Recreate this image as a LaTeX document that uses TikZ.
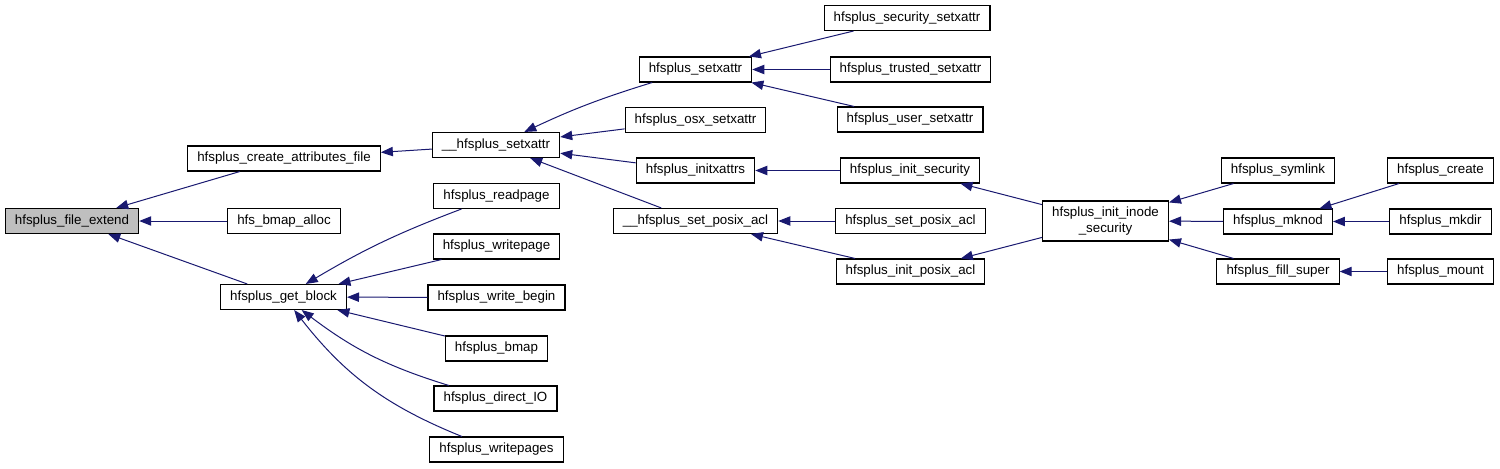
\documentclass[tikz,border=0pt]{standalone}
\usepackage{xcolor}
\usepackage{fontspec}
\setmainfont{Liberation Sans}
\usepackage{tikz}
\usetikzlibrary{arrows.meta}
\definecolor{navy}{HTML}{191970}

\begin{document}
\begin{tikzpicture}[x=0.75pt,y=-0.75pt,
        fn/.style={rectangle,draw=black,line width=0.8pt,fill=white,align=center,inner xsep=7.2pt,inner ysep=0pt,minimum height=18.75pt,font=\fontsize{10}{12}\selectfont},
        root/.style={fn,fill=gray!50},
        edge/.style={-{Triangle[length=9pt,width=7pt]},draw=navy,line width=0.75pt}]
        \useasboundingbox (0,0) rectangle (1500,468);
        % callees on the left, callers to the right
        \node[root] (extend) at (72,221) {hfsplus\_file\_extend};
        \node[fn] (create) at (284,158.5) {hfsplus\_create\_attributes\_file};
        \node[fn] (balloc) at (284,221) {hfs\_bmap\_alloc};
        \node[fn] (getblk) at (283.5,297) {hfsplus\_get\_block};
        \node[fn] (setx) at (496,145) {\_\_hfsplus\_setxattr};
        \node[fn] (rdpage) at (496.5,196) {hfsplus\_readpage};
        \node[fn] (wrpage) at (496.5,246.5) {hfsplus\_writepage};
        \node[fn] (wrbegin) at (496.5,297.5) {hfsplus\_write\_begin};
        \node[fn] (bmap) at (496.5,348.5) {hfsplus\_bmap};
        \node[fn] (dio) at (495.5,398.5) {hfsplus\_direct\_IO};
        \node[fn] (wrpages) at (496.5,449.5) {hfsplus\_writepages};
        \node[fn] (psetx) at (695.5,69.5) {hfsplus\_setxattr};
        \node[fn] (osx) at (695.5,120) {hfsplus\_osx\_setxattr};
        \node[fn] (initx) at (695.5,170.5) {hfsplus\_initxattrs};
        \node[fn] (setacl) at (695.5,221) {\_\_hfsplus\_set\_posix\_acl};
        \node[fn] (secx) at (907,18) {hfsplus\_security\_setxattr};
        \node[fn] (trustx) at (910.5,69.5) {hfsplus\_trusted\_setxattr};
        \node[fn] (userx) at (910,119.5) {hfsplus\_user\_setxattr};
        \node[fn] (initsec) at (910,170.5) {hfsplus\_init\_security};
        \node[fn] (psetacl) at (910.5,221) {hfsplus\_set\_posix\_acl};
        \node[fn] (initacl) at (910.5,271.5) {hfsplus\_init\_posix\_acl};
        \node[fn,minimum height=30pt] (inode) at (1105.5,221) {hfsplus\_init\_inode\\\_security};
        \node[fn] (symlink) at (1278,170.5) {hfsplus\_symlink};
        \node[fn] (mknod) at (1278,221.5) {hfsplus\_mknod};
        \node[fn] (fill) at (1278,271.5) {hfsplus\_fill\_super};
        \node[fn] (mkcreate) at (1440.5,170.5) {hfsplus\_create};
        \node[fn] (mkdir) at (1440.5,221.5) {hfsplus\_mkdir};
        \node[fn] (mount) at (1440.5,271.5) {hfsplus\_mount};
        % call edges
        \draw[edge] (create) -- (extend);
        \draw[edge] (balloc) -- (extend);
        \draw[edge] (getblk) -- (extend);
        \draw[edge] (setx) -- (create);
        \draw[edge] (psetx) to[bend right=4] (setx);
        \draw[edge] (osx) -- (setx);
        \draw[edge] (initx) -- (setx);
        \draw[edge] (setacl) -- (setx);
        \draw[edge] (secx) -- (psetx);
        \draw[edge] (trustx) -- (psetx);
        \draw[edge] (userx) -- (psetx);
        \draw[edge] (initsec) -- (initx);
        \draw[edge] (psetacl) -- (setacl);
        \draw[edge] (initacl) -- (setacl);
        \draw[edge] (inode) -- (initsec);
        \draw[edge] (inode) -- (initacl);
        \draw[edge] (symlink) -- (inode);
        \draw[edge] (mknod) -- (inode);
        \draw[edge] (fill) -- (inode);
        \draw[edge] (mkcreate) -- (mknod);
        \draw[edge] (mkdir) -- (mknod);
        \draw[edge] (mount) -- (fill);
        \draw[edge] (rdpage) to[bend right=5] (getblk);
        \draw[edge] (wrpage) -- (getblk);
        \draw[edge] (wrbegin) -- (getblk);
        \draw[edge] (bmap) -- (getblk);
        \draw[edge] (dio) to[bend left=10] (getblk);
        \draw[edge] (wrpages) to[bend left=15] (getblk);
    \end{tikzpicture}
\end{document}
